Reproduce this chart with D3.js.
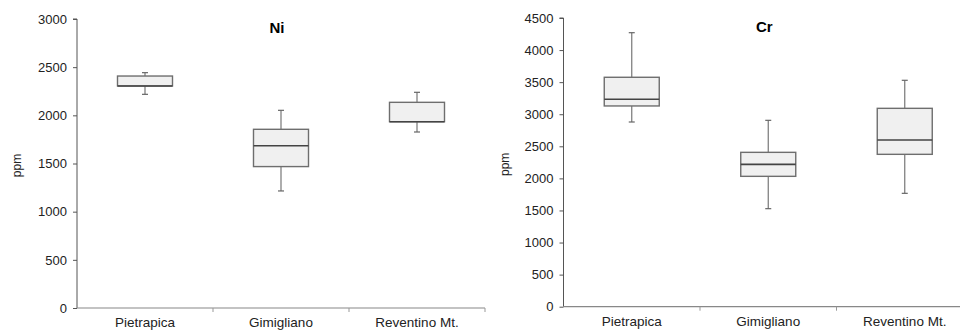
<!DOCTYPE html>
<html>
<head>
<meta charset="utf-8">
<script src="https://cdn.jsdelivr.net/npm/d3@7"></script>
<style>
  body { margin: 0; background: #fff; }
  svg { display: block; font-family: "Liberation Sans", Arial, sans-serif; }
</style>
</head>
<body>
<svg id="chart" width="960" height="331"></svg>
<script>
const categories = ["Pietrapica", "Gimigliano", "Reventino Mt."];

// Ni (ppm)
const niMin    = [2218, 1215, 1827];
const niQ1     = [2305, 1468, 1934];
const niMedian = [2305, 1685, 1934];
const niQ3     = [2408, 1855, 2135];
const niMax    = [2443, 2052, 2239];
const niTicks  = [0, 500, 1000, 1500, 2000, 2500, 3000];

// Cr (ppm)
const crMin    = [2879, 1528, 1767];
const crQ1     = [3129, 2032, 2375];
const crMedian = [3233, 2219, 2598];
const crQ3     = [3576, 2406, 3092];
const crMax    = [4271, 2905, 3529];
const crTicks  = [0, 500, 1000, 1500, 2000, 2500, 3000, 3500, 4000, 4500];

const svg = d3.select("#chart");

function panel(opts) {
  const g = svg.append("g");
  const x = d3.scaleBand().domain(categories).range([opts.x0, opts.x1]).paddingInner(0).paddingOuter(0);
  const y = d3.scaleLinear().domain([0, opts.yMax]).range([opts.yBottom, opts.yTop]);

  // y axis
  const yAx = g.append("g").attr("transform", `translate(${opts.x0},0)`)
    .call(d3.axisLeft(y).tickValues(opts.ticks).tickSize(4).tickPadding(6).tickFormat(d3.format("d")));
  yAx.select(".domain").attr("stroke", "#555").attr("d", `M-4,${y(opts.yMax)}H0V${y(0)}`);
  yAx.selectAll(".tick line").attr("stroke", "#555");
  yAx.selectAll(".tick text").attr("fill", "#222").style("font-size", "13px");

  // x axis
  const xAx = g.append("g").attr("transform", `translate(0,${opts.yBottom})`);
  xAx.append("line").attr("x1", opts.x0).attr("x2", opts.x1).attr("y1", 0).attr("y2", 0)
    .attr("stroke", "#888").attr("stroke-width", 1.2);
  const bounds = categories.map(c => x(c) + x.bandwidth());
  xAx.selectAll("line.tk").data(bounds).enter().append("line").attr("class", "tk")
    .attr("x1", d => d).attr("x2", d => d).attr("y1", 0).attr("y2", 4).attr("stroke", "#999");
  xAx.selectAll("text.cat").data(categories).enter().append("text").attr("class", "cat")
    .attr("x", d => x(d) + x.bandwidth() / 2).attr("y", 19)
    .attr("text-anchor", "middle").attr("fill", "#222").style("font-size", "13.5px").text(d => d);

  // y label
  g.append("text").attr("transform", `translate(${opts.labelX},${(opts.yTop + opts.yBottom) / 2 + 2}) rotate(-90)`)
    .attr("text-anchor", "middle").attr("fill", "#222").style("font-size", "12px").text("ppm");

  // title
  g.append("text").attr("x", (opts.x0 + opts.x1) / 2 - 4).attr("y", opts.titleY)
    .attr("text-anchor", "middle").attr("font-weight", "bold").attr("fill", "#000")
    .style("font-size", "15px").text(opts.title);

  const bw = 55, cap = 6;
  const data = categories.map((c, i) => ({
    c, min: opts.min[i], q1: opts.q1[i], med: opts.med[i], q3: opts.q3[i], max: opts.max[i]
  }));
  const bx = g.selectAll("g.box").data(data).enter().append("g").attr("class", "box");
  const cx = d => x(d.c) + x.bandwidth() / 2;
  // whiskers
  bx.append("line").attr("x1", cx).attr("x2", cx).attr("y1", d => y(d.max)).attr("y2", d => y(d.q3))
    .attr("stroke", "#777").attr("stroke-width", 1.2);
  bx.append("line").attr("x1", cx).attr("x2", cx).attr("y1", d => y(d.q1)).attr("y2", d => y(d.min))
    .attr("stroke", "#777").attr("stroke-width", 1.2);
  bx.append("line").attr("x1", d => cx(d) - cap / 2).attr("x2", d => cx(d) + cap / 2)
    .attr("y1", d => y(d.max)).attr("y2", d => y(d.max)).attr("stroke", "#666").attr("stroke-width", 1.2);
  bx.append("line").attr("x1", d => cx(d) - cap / 2).attr("x2", d => cx(d) + cap / 2)
    .attr("y1", d => y(d.min)).attr("y2", d => y(d.min)).attr("stroke", "#666").attr("stroke-width", 1.2);
  // box
  bx.append("rect").attr("x", d => cx(d) - bw / 2).attr("width", bw)
    .attr("y", d => y(d.q3)).attr("height", d => y(d.q1) - y(d.q3))
    .attr("fill", "#f0f0f0").attr("stroke", "#6e6e6e").attr("stroke-width", 1.4);
  // median
  bx.append("line").attr("x1", d => cx(d) - bw / 2).attr("x2", d => cx(d) + bw / 2)
    .attr("y1", d => y(d.med)).attr("y2", d => y(d.med)).attr("stroke", "#444").attr("stroke-width", 1.6);
}

panel({
  x0: 77, x1: 485, yTop: 19, yBottom: 308, yMax: 3000, ticks: niTicks,
  min: niMin, q1: niQ1, med: niMedian, q3: niQ3, max: niMax,
  title: "Ni", titleY: 33, labelX: 21
});
panel({
  x0: 563.5, x1: 973, yTop: 18, yBottom: 306.7, yMax: 4500, ticks: crTicks,
  min: crMin, q1: crQ1, med: crMedian, q3: crQ3, max: crMax,
  title: "Cr", titleY: 32, labelX: 509
});
</script>
</body>
</html>
